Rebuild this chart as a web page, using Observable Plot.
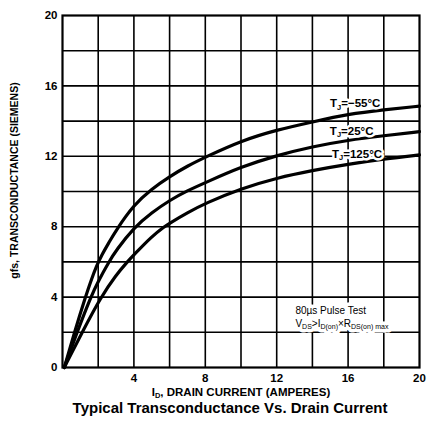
<!DOCTYPE html>
<html><head><meta charset="utf-8">
<script src="https://cdn.jsdelivr.net/npm/d3@7"></script>
<script src="https://cdn.jsdelivr.net/npm/@observablehq/plot@0.6"></script>
<style>
body{margin:0;background:#fff;}
svg{display:block;}
#title{font:bold 15px "Liberation Sans",Arial,sans-serif;width:427px;text-align:center;padding-left:33px;box-sizing:border-box;line-height:16px;color:#000;}
</style></head><body><div id="chart"></div><div id="title">Typical Transconductance Vs. Drain Current</div>
<script>
// Axis ticks and grid
const xTicks = [4, 8, 12, 16, 20];
const yTicks = [0, 4, 8, 12, 16, 20];
const gridValues = [2, 4, 6, 8, 10, 12, 14, 16, 18];

// TJ = -55 °C
const idM55  = [0.1, 0.7, 1.3, 1.6, 1.9, 2.2, 2.6, 3, 4, 5, 6, 7, 8, 10, 12, 14, 16, 18, 20];
const gfsM55 = [0, 2.1, 4.05, 4.95, 5.75, 6.4, 7.1, 7.8, 9.25, 10.15, 10.85, 11.45, 11.95, 12.88, 13.5, 13.95, 14.4, 14.65, 14.85];
// TJ = 25 °C
const id25  = [0.1, 0.85, 1.58, 2, 2.6, 3, 4, 5, 6, 7, 8, 10, 12, 14, 16, 18, 20];
const gfs25 = [0, 2.1, 4, 4.9, 6, 6.65, 7.95, 8.8, 9.5, 10.05, 10.5, 11.4, 12.05, 12.55, 12.92, 13.17, 13.4];
// TJ = 125 °C
const id125  = [0.1, 1.1, 2.15, 3, 3.63, 4, 5, 5.7, 6, 7, 8, 10, 12, 14, 16, 18, 20];
const gfs125 = [0, 2, 4, 5.25, 6, 6.4, 7.45, 8, 8.2, 8.8, 9.33, 10.17, 10.77, 11.2, 11.55, 11.85, 12.08];

const seriesNames = ["-55", "25", "125"];
const seriesX = [idM55, id25, id125];
const seriesY = [gfsM55, gfs25, gfs125];

// Curve labels
const labelParts = [["T", "J", "=−55°C"], ["T", "J", "=25°C"], ["T", "J", "=125°C"]];
const labelX = [16.4, 16.2, 16.5];
const labelY = [15.0, 13.43, 12.14];

// Test condition note
const noteParts = [["80µs Pulse Test"], ["V", "DS", ">I", "D(on)", "×R", "DS(on) max", ""]];
const noteX = [13.05, 13.05];
const noteY = [3.2, 2.48];

const xLabelParts = ["I", "D", ", DRAIN CURRENT (AMPERES)"];
const yLabel = "gfs, TRANSCONDUCTANCE (SIEMENS)";

const lineData = seriesNames.flatMap((s, k) => seriesX[k].map((x, i) => ({s, x, y: seriesY[k][i]})));
const labels = labelParts.map((p, i) => ({text: p.join(""), x: labelX[i], y: labelY[i]}));
const notes = noteParts.map((p, i) => ({text: p.join(""), x: noteX[i], y: noteY[i]}));

const font = "Liberation Sans";
const labelOpts = {x: "x", y: "y", text: "text", fontSize: 11.5, fontWeight: "bold"};
const noteOpts = {x: "x", y: "y", text: "text", textAnchor: "start", fontSize: 10, fontWeight: "normal"};
const plot = Plot.plot({
  width: 427, height: 400,
  marginLeft: 62, marginRight: 8, marginTop: 15, marginBottom: 33,
  x: {domain: [0, 20]},
  y: {domain: [0, 20]},
  style: {fontFamily: font, fontWeight: "bold", fontSize: "11px", color: "#000", background: "#fff"},
  marks: [
    Plot.gridX(gridValues, {stroke: "#000", strokeOpacity: 1, strokeWidth: 1.6}),
    Plot.gridY(gridValues, {stroke: "#000", strokeOpacity: 1, strokeWidth: 1.6}),
    Plot.line(lineData, {x: "x", y: "y", z: "s", curve: "basis", stroke: "#000", strokeWidth: 3.2}),
    // white halo layers, then black text on top
    Plot.text(labels, {...labelOpts, fill: "#fff", stroke: "#fff", strokeWidth: 5}),
    Plot.text(notes, {...noteOpts, fill: "#fff", stroke: "#fff", strokeWidth: 7}),
    Plot.text(labels, {...labelOpts, fill: "#000"}),
    Plot.text(notes, {...noteOpts, fill: "#000"}),
    Plot.frame({stroke: "#000", strokeWidth: 2.2}),
    Plot.axisX(xTicks, {tickSize: 0, tickPadding: 6, fontSize: 11.5, label: xLabelParts.join(""), labelAnchor: "center", labelArrow: "none", labelOffset: 28}),
    Plot.axisY(yTicks, {tickSize: 0, tickPadding: 5, fontSize: 11.5, label: null}),
    Plot.text([yLabel], {frameAnchor: "left", textAnchor: "middle", rotate: -90, dx: -48, dy: -11, fontSize: 10.5, fontWeight: "bold", fill: "#000"})
  ]
});
document.getElementById("chart").appendChild(plot);

// Render subscripts as tspans
function applySub(parts, subSize, shift) {
  const full = parts.join("");
  d3.select(plot).selectAll("text").filter(function () { return this.textContent === full; }).each(function () {
    const el = d3.select(this);
    el.text(null);
    let shifted = false;
    parts.forEach((p, i) => {
      if (p === "") return;
      const sub = i % 2 === 1;
      const t = el.append("tspan").text(p);
      if (sub) { t.attr("font-size", subSize); if (!shifted) t.attr("dy", shift); shifted = true; }
      else if (shifted) { t.attr("dy", -shift); shifted = false; }
    });
  });
}
labelParts.forEach(p => applySub(p, 7.5, 2.5));
noteParts.forEach(p => applySub(p, 7, 2));
applySub(xLabelParts, 7.5, 2.5);
</script></body></html>
